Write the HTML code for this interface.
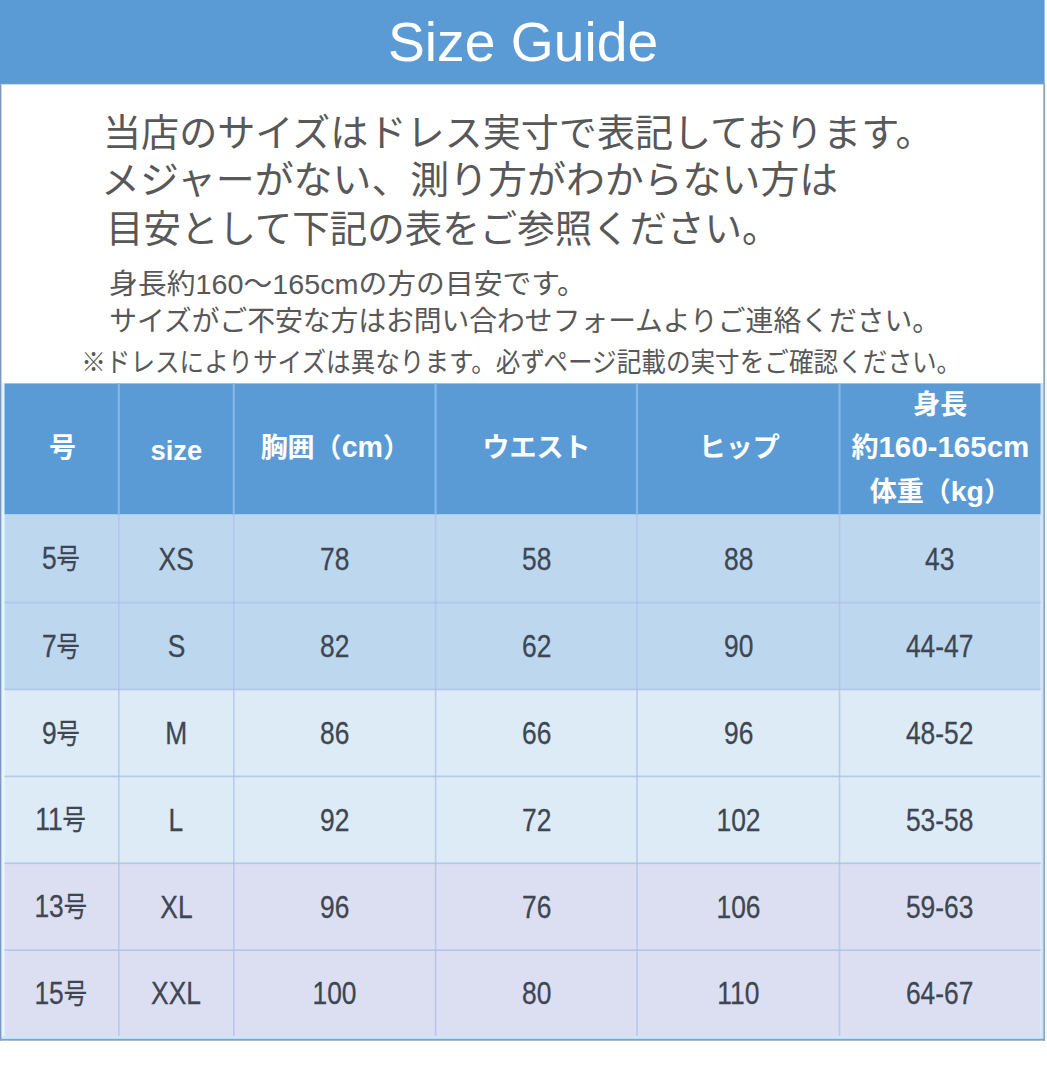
<!DOCTYPE html>
<html lang="ja"><head><meta charset="utf-8"><title>Size Guide</title><style>
html,body{margin:0;padding:0}
body{width:1047px;height:1080px;position:relative;overflow:hidden;background:#fff;font-family:"Liberation Sans","Noto Sans CJK JP",sans-serif}
h1,p{margin:0;font-size:inherit;font-weight:inherit}
.bg{position:absolute;left:0;top:0}
.ln{position:absolute;white-space:nowrap;overflow:visible}
.ln svg{position:absolute;left:0;top:0;overflow:visible}
.ln svg text{font-family:"Liberation Sans","Noto Sans CJK JP",sans-serif}
.sz{position:absolute;border-collapse:collapse;table-layout:fixed;border-spacing:0}
.sz th,.sz td{padding:0;text-align:center;vertical-align:middle;white-space:nowrap;overflow:visible;font-size:0;line-height:0}
.sz th{color:#fff;font-weight:bold}
.sz td{color:#3e4654}
.h{display:inline-block;position:relative;font-size:27px;line-height:43.7px}
.h span{line-height:0}
.big{font-size:29.5px}
.n{display:inline-block;position:relative;top:1px;font-size:31.8px;line-height:31.8px;transform:scaleX(0.83);-webkit-text-stroke:.3px #3e4654}
.g{font-size:28px}
</style></head>
<body>
<svg class="bg" width="1047" height="1080" viewBox="0 0 1047 1080" aria-hidden="true"><rect x="0.00" y="0.00" width="1044.60" height="84.20" fill="#5b9bd5"/><rect x="0.00" y="83.00" width="1044.60" height="1.20" fill="#7399c4"/><rect x="1045.00" y="84.20" width="2.00" height="957.00" fill="#eafaff"/><rect x="1.40" y="383.00" width="3.10" height="655.80" fill="#dff5ff"/><rect x="1040.60" y="383.00" width="2.70" height="655.80" fill="#cfe4fb"/><rect x="1.40" y="1036.00" width="1041.90" height="2.80" fill="#c9e8ff"/><rect x="0.00" y="84.20" width="1.40" height="956.50" fill="#7d97c2"/><rect x="1043.30" y="84.20" width="1.70" height="956.50" fill="#8ea6b8"/><rect x="0.00" y="1038.80" width="1045.00" height="1.90" fill="#8aa2b8"/><rect x="4.50" y="383.40" width="1036.10" height="131.20" fill="#5b9bd5"/><rect x="4.50" y="514.60" width="1036.10" height="88.00" fill="#bdd7ee"/><rect x="4.50" y="602.60" width="1036.10" height="86.90" fill="#bdd7ee"/><rect x="4.50" y="689.50" width="1036.10" height="86.90" fill="#dcebf5"/><rect x="4.50" y="776.40" width="1036.10" height="86.90" fill="#dcebf5"/><rect x="4.50" y="863.30" width="1036.10" height="86.90" fill="#dbdff1"/><rect x="4.50" y="950.20" width="1036.10" height="85.80" fill="#dbdff1"/><rect x="117.70" y="383.40" width="2.20" height="131.20" fill="#84b7ec"/><rect x="118.00" y="514.60" width="1.60" height="521.40" fill="#b3c2ec" fill-opacity=".8"/><rect x="232.70" y="383.40" width="2.20" height="131.20" fill="#84b7ec"/><rect x="233.00" y="514.60" width="1.60" height="521.40" fill="#b3c2ec" fill-opacity=".8"/><rect x="434.50" y="383.40" width="2.20" height="131.20" fill="#84b7ec"/><rect x="434.80" y="514.60" width="1.60" height="521.40" fill="#b3c2ec" fill-opacity=".8"/><rect x="635.90" y="383.40" width="2.20" height="131.20" fill="#84b7ec"/><rect x="636.20" y="514.60" width="1.60" height="521.40" fill="#b3c2ec" fill-opacity=".8"/><rect x="838.40" y="383.40" width="2.20" height="131.20" fill="#84b7ec"/><rect x="838.70" y="514.60" width="1.60" height="521.40" fill="#b3c2ec" fill-opacity=".8"/><rect x="4.50" y="601.80" width="1036.10" height="1.60" fill="#aebfe8" fill-opacity=".85"/><rect x="4.50" y="688.70" width="1036.10" height="1.60" fill="#aebfe8" fill-opacity=".85"/><rect x="4.50" y="775.60" width="1036.10" height="1.60" fill="#aebfe8" fill-opacity=".85"/><rect x="4.50" y="862.50" width="1036.10" height="1.60" fill="#aebfe8" fill-opacity=".85"/><rect x="4.50" y="949.40" width="1036.10" height="1.60" fill="#aebfe8" fill-opacity=".85"/></svg>
<h1 class="ln" style="left:387.58px;top:12.02px;width:270.25px;height:56.00px"><svg width="270.25" height="56.00" viewBox="0 -49.28 270.25 56.00" fill="#fff"><text x="0" y="0" font-size="56" fill="#fff" textLength="270.25" lengthAdjust="spacingAndGlyphs">Size Guide</text></svg></h1>
<p class="ln" style="left:103.00px;top:111.15px;width:830.58px;height:43.16px"><svg width="830.58" height="43.16" viewBox="0 -37.35 830.58 43.16" fill="#585858"><text x="0" y="-2" font-size="38" fill="#585858" textLength="830.58" lengthAdjust="spacingAndGlyphs">当店のサイズはドレス実寸で表記しております。</text></svg></p>
<p class="ln" style="left:100.80px;top:158.15px;width:737.24px;height:43.16px"><svg width="737.24" height="43.16" viewBox="0 -37.35 737.24 43.16" fill="#585858"><text x="0" y="-2" font-size="38" fill="#585858" textLength="737.24" lengthAdjust="spacingAndGlyphs">メジャーがない、測り方がわからない方は</text></svg></p>
<p class="ln" style="left:105.50px;top:206.65px;width:673.58px;height:43.16px"><svg width="673.58" height="43.16" viewBox="0 -37.35 673.58 43.16" fill="#585858"><text x="0" y="-2" font-size="38" fill="#585858" textLength="673.58" lengthAdjust="spacingAndGlyphs">目安として下記の表をご参照ください。</text></svg></p>
<p class="ln" style="left:109.00px;top:268.55px;width:477.00px;height:29.64px"><svg width="477.00" height="29.64" viewBox="0 -25.65 477.00 29.64" fill="#585858"><text x="0" y="-1" font-size="28" fill="#585858" textLength="477" lengthAdjust="spacingAndGlyphs">身長約160～165cmの方の目安です。</text></svg></p>
<p class="ln" style="left:109.00px;top:306.35px;width:831.20px;height:29.64px"><svg width="831.20" height="29.64" viewBox="0 -25.65 831.20 29.64" fill="#585858"><text x="0" y="-1" font-size="28" fill="#585858" textLength="831.2" lengthAdjust="spacingAndGlyphs">サイズがご不安な方はお問い合わせフォームよりご連絡ください。</text></svg></p>
<p class="ln" style="left:80.50px;top:348.00px;width:880.38px;height:29.12px"><svg width="880.38" height="29.12" viewBox="0 -25.20 880.38 29.12" fill="#585858"><text x="0" y="-1" font-size="27" fill="#585858" textLength="880.38" lengthAdjust="spacingAndGlyphs">※ドレスによりサイズは異なります。必ずページ記載の実寸をご確認ください。</text></svg></p>
<table class="sz" style="left:4.50px;top:383.40px;width:1036.10px"><colgroup><col style="width:114.30px"><col style="width:115.00px"><col style="width:201.80px"><col style="width:201.40px"><col style="width:202.50px"><col style="width:201.10px"></colgroup><thead><tr style="height:131.20px"><th><span class="h" style="left:0.80px;top:0.10px">号</span></th><th><span class="h" style="left:0.00px;top:1.60px;font-size:27.4px">size</span></th><th><span class="h" style="left:0.60px;top:0.10px">胸囲（<span style="font-size:28.6px">cm</span>）</span></th><th><span class="h" style="left:0.30px;top:0.10px">ウエスト</span></th><th><span class="h" style="left:1.00px;top:0.10px">ヒップ</span></th><th><span class="h" style="left:0.30px;top:0.20px">身長<br>約<span class="big">160-165cm</span><br>体重（<span style="font-size:28.4px">kg</span>）</span></th></tr></thead><tbody><tr style="height:88.00px"><td><span class="n" style="left:-1px">5<span class="g">号</span></span></td><td><span class="n">XS</span></td><td><span class="n">78</span></td><td><span class="n">58</span></td><td><span class="n">88</span></td><td><span class="n">43</span></td></tr><tr style="height:86.90px"><td><span class="n" style="left:-1px">7<span class="g">号</span></span></td><td><span class="n">S</span></td><td><span class="n">82</span></td><td><span class="n">62</span></td><td><span class="n">90</span></td><td><span class="n">44-47</span></td></tr><tr style="height:86.90px"><td><span class="n" style="left:-1px">9<span class="g">号</span></span></td><td><span class="n">M</span></td><td><span class="n">86</span></td><td><span class="n">66</span></td><td><span class="n">96</span></td><td><span class="n">48-52</span></td></tr><tr style="height:86.90px"><td><span class="n" style="left:-1px">11<span class="g">号</span></span></td><td><span class="n">L</span></td><td><span class="n">92</span></td><td><span class="n">72</span></td><td><span class="n">102</span></td><td><span class="n">53-58</span></td></tr><tr style="height:86.90px"><td><span class="n" style="left:-1px">13<span class="g">号</span></span></td><td><span class="n">XL</span></td><td><span class="n">96</span></td><td><span class="n">76</span></td><td><span class="n">106</span></td><td><span class="n">59-63</span></td></tr><tr style="height:85.80px"><td><span class="n" style="left:-1px">15<span class="g">号</span></span></td><td><span class="n">XXL</span></td><td><span class="n">100</span></td><td><span class="n">80</span></td><td><span class="n">110</span></td><td><span class="n">64-67</span></td></tr></tbody></table>
</body></html>
